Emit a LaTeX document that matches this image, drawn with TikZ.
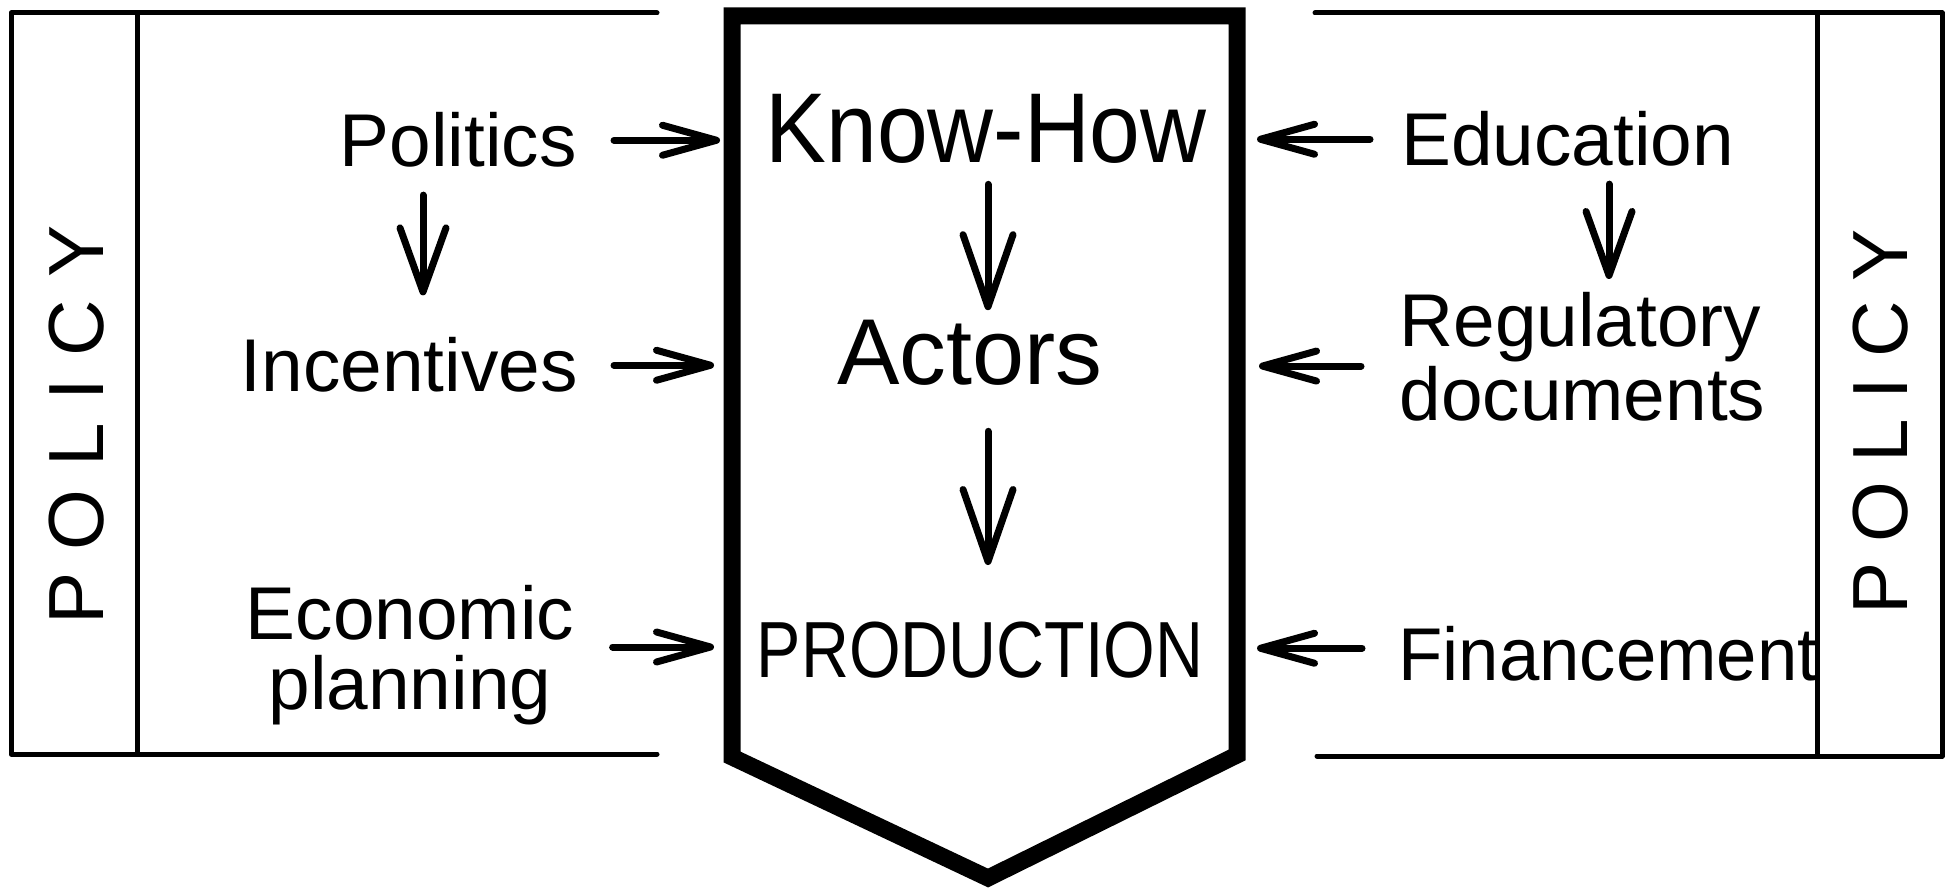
\documentclass[tikz,border=0pt]{standalone}
\usepackage{fontspec}
\setmainfont{Liberation Sans}
\usepackage{graphicx}
\usetikzlibrary{arrows.meta}
\newcommand\policyword[1]{P\hspace{#1}O\hspace{#1}L\hspace{#1}I\hspace{#1}C\hspace{#1}Y}
\begin{document}
\begin{tikzpicture}[x=0.5pt,y=-0.5pt,
  frame/.style={line width=2.5pt, line cap=round, line join=round},
  bigshape/.style={line width=8.5pt, line join=miter},
  lbl/.style={inner sep=0pt, font=\fontsize{37.4}{35}\selectfont},
  harr/.style={line width=3.5pt, line cap=round, -{Straight Barb[length=27pt,width=15pt,round]}},
  varr/.style={line width=3.5pt, line cap=round, -{Straight Barb[length=32pt,width=23pt,round]}},
  carr/.style={line width=3.5pt, line cap=round, -{Straight Barb[length=36pt,width=25pt,round]}},
  policytxt/.style={inner sep=0pt, rotate=90, font=\fontsize{39.1}{40}\selectfont}
]
\useasboundingbox (0,0) rectangle (1946,892);
\fill[white] (0,0) rectangle (1946,892);

% left frame
\coordinate (lTL) at (11,13);
\coordinate (lTR) at (657,13);
\coordinate (lBL) at (11,754);
\coordinate (lBR) at (657,754);
\coordinate (lIT) at (137,13);
\coordinate (lIB) at (137,754);
\draw[frame] (lTR) -- (lTL) -- (lBL) -- (lBR);
\draw[frame] (lIT) -- (lIB);

% right frame
\coordinate (rTL) at (1315,13);
\coordinate (rTR) at (1942,13);
\coordinate (rBR) at (1942,756);
\coordinate (rBL) at (1317,756);
\coordinate (rIT) at (1817,13);
\coordinate (rIB) at (1817,756);
\draw[frame] (rTL) -- (rTR) -- (rBR) -- (rBL);
\draw[frame] (rIT) -- (rIB);

% central shape
\coordinate (sTL) at (732,16);
\coordinate (sTR) at (1237,16);
\coordinate (sBR) at (1237,755);
\coordinate (sTip) at (988,878);
\coordinate (sBL) at (732,757);
\draw[bigshape] (sTL) -- (sTR) -- (sBR) -- (sTip) -- (sBL) -- cycle;

% POLICY labels
\node[policytxt] (polL) at (77,425) {\policyword{11.3pt}};
\node[policytxt] (polR) at (1881,422) {\policyword{9.8pt}};

% left labels
\node[lbl, anchor=base east] (pol) at (577,167) {Politics};
\node[lbl, anchor=base east] (inc) at (578,392) {Incentives};
\node[lbl, align=center] (eco) at (410,655) {Economic\\planning};

% central labels
\node[inner sep=0pt, anchor=base, font=\fontsize{49.6}{50}\selectfont] (kh) at (986,163) {\scalebox{0.92}[1]{Know-How}};
\node[inner sep=0pt, anchor=base, font=\fontsize{46.8}{47}\selectfont] (act) at (970,385) {Actors};
\node[inner sep=0pt, anchor=base, font=\fontsize{39.8}{40}\selectfont] (prod) at (980,677) {\scalebox{0.834}[1]{PRODUCTION}};

% right labels
\node[lbl, anchor=base west] (edu) at (1401,166) {Education};
\node[lbl, anchor=north west, align=left, font=\fontsize{37.4}{37}\selectfont] (reg) at (1399,292) {Regulatory\\documents};
\node[lbl, anchor=base west] (fin) at (1398,680) {\scalebox{0.97}[1]{Financement}};

% horizontal arrows, left side
\draw[harr, shorten <=18.5pt, shorten >=6pt] (pol.east) -- (pol.east -| sTL);
\draw[harr, shorten <=18pt, shorten >=9pt] (inc.east) -- (inc.east -| sTL);
\coordinate (ecoA) at ([yshift=4pt]eco.east);
\draw[harr, shorten <=19pt, shorten >=9pt] (ecoA) -- (ecoA -| sTL);

% horizontal arrows, right side
\draw[harr, shorten <=15.5pt, shorten >=10pt] (edu.west) -- (edu.west -| sTR);
\coordinate (regA) at ([yshift=-4.6pt]reg.west);
\draw[harr, shorten <=19pt, shorten >=11pt] (regA) -- (regA -| sTR);
\coordinate (finA) at ([yshift=2.5pt]fin.west);
\draw[harr, shorten <=18pt, shorten >=10pt] (finA) -- (finA -| sTR);

% vertical arrows
\coordinate (px) at (423,0);
\draw[varr, shorten <=13.5pt, shorten >=21pt] (pol.south -| px) -- (inc.north -| px);
\coordinate (cx) at (988,0);
\draw[carr, shorten <=10pt, shorten >=5pt] (kh.south -| cx) -- (act.north -| cx);
\draw[carr, shorten <=22.5pt, shorten >=28pt] (act.south -| cx) -- (prod.north -| cx);
\coordinate (ex) at (1609,0);
\draw[varr, shorten <=8.5pt, shorten >=6.5pt] (edu.south -| ex) -- (reg.north -| ex);
\end{tikzpicture}
\end{document}
